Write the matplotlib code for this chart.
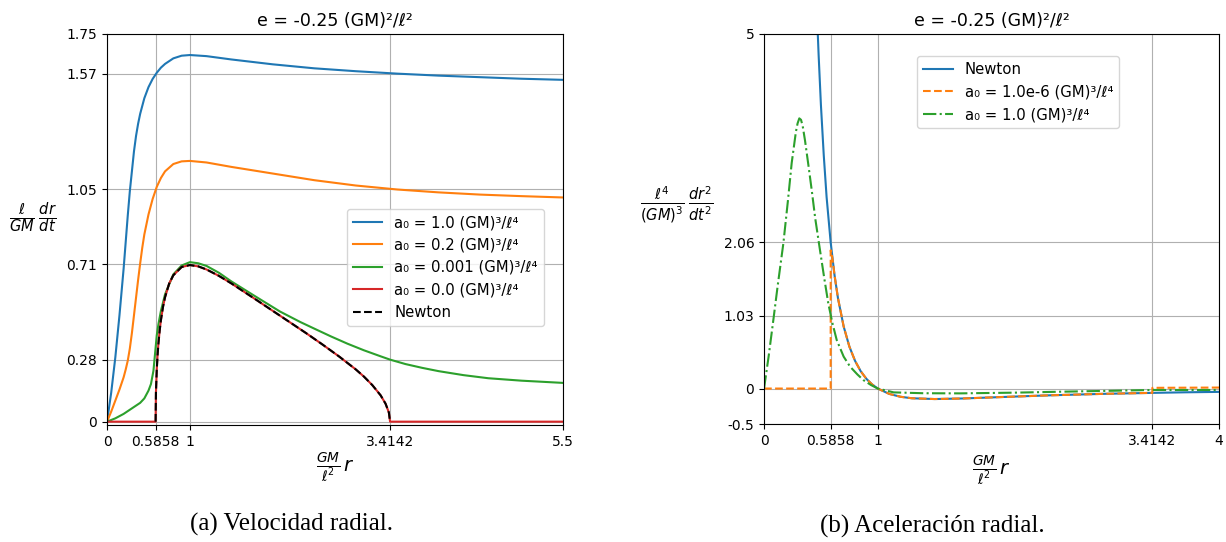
import numpy as np
import matplotlib
matplotlib.use("Agg")
import matplotlib.pyplot as plt

# --- datos (e = -0.25, GM = l = 1) ---
title_txt = "e = -0.25 (GM)²/ℓ²"

# velocidad radial, a0 = 1.0
r_v1 = [0, 0.05, 0.1, 0.15, 0.2, 0.25, 0.275, 0.3, 0.325, 0.35, 0.375, 0.4, 0.45, 0.5, 0.55, 0.6, 0.65,
        0.7, 0.8, 0.9, 1.0, 1.2, 1.5, 2.0, 2.5, 3.0, 3.5, 4.0, 4.5, 5.0, 5.5]
v_v1 = [0, 0.13, 0.29, 0.48, 0.69, 0.93, 1.04, 1.13, 1.22, 1.29, 1.345, 1.39, 1.46, 1.51, 1.547, 1.575, 1.598,
        1.615, 1.64, 1.652, 1.655, 1.65, 1.635, 1.613, 1.595, 1.582, 1.571, 1.562, 1.555, 1.548, 1.543]

# a0 = 0.2
r_v2 = [0, 0.05, 0.1, 0.15, 0.2, 0.225, 0.25, 0.275, 0.3, 0.325, 0.35, 0.375, 0.4, 0.425, 0.45, 0.5, 0.55, 0.6,
        0.65, 0.7, 0.8, 0.9, 1.0, 1.2, 1.5, 2.0, 2.5, 3.0, 3.5, 4.0, 4.5, 5.0, 5.5]
v_v2 = [0, 0.045, 0.095, 0.145, 0.2, 0.235, 0.275, 0.33, 0.40, 0.48, 0.56, 0.64, 0.715, 0.785, 0.845, 0.935, 1.005, 1.06,
        1.10, 1.13, 1.163, 1.175, 1.177, 1.17, 1.15, 1.12, 1.09, 1.066, 1.048, 1.035, 1.025, 1.018, 1.012]

# a0 = 0.001
r_v3 = [0, 0.1, 0.2, 0.3, 0.4, 0.45, 0.5, 0.53, 0.56, 0.58, 0.6, 0.62, 0.65, 0.7, 0.8, 0.9, 1.0, 1.1,
        1.2, 1.35, 1.5, 1.8, 2.087, 2.33, 2.5, 2.7, 2.9, 3.1, 3.3, 3.4142, 3.6, 3.8, 4.0, 4.3, 4.6, 5.0, 5.5]
v_v3 = [0, 0.015, 0.035, 0.06, 0.085, 0.105, 0.14, 0.17, 0.23, 0.31, 0.39, 0.44, 0.50, 0.575, 0.665, 0.705, 0.72, 0.715,
        0.703, 0.672, 0.633, 0.563, 0.497, 0.45, 0.42, 0.385, 0.352, 0.322, 0.295, 0.28, 0.26, 0.243, 0.228, 0.21, 0.196, 0.185, 0.175]

# Newton (entre los puntos de retorno)
r_vn = [0.5858, 0.59, 0.6, 0.61, 0.62, 0.635, 0.65, 0.675, 0.7, 0.75, 0.8, 0.9, 1.0, 1.1, 1.2, 1.35,
        1.5, 1.65, 1.8, 2.0, 2.2, 2.4, 2.6, 2.8, 3.0, 3.1, 3.2, 3.3, 3.36, 3.4, 3.4142]
v_vn = [0, 0.131, 0.236, 0.303, 0.353, 0.412, 0.458, 0.518, 0.562, 0.624, 0.661, 0.698, 0.707, 0.701, 0.687, 0.658,
        0.624, 0.587, 0.550, 0.5, 0.450, 0.400, 0.348, 0.294, 0.236, 0.203, 0.165, 0.119, 0.081, 0.041, 0]

# a0 = 0.0: cero fuera de la region permitida
r_v0 = [0, 0.5858] + r_vn + [3.4142, 5.5]
v_v0 = [0, 0] + v_vn + [0, 0]

# aceleracion radial, Newton
r_an = [0.47, 0.48, 0.5, 0.525, 0.55, 0.5858, 0.62, 0.65, 0.7, 0.75, 0.8, 0.85, 0.9, 0.95, 1.0,
        1.1, 1.2, 1.3, 1.5, 1.75, 2.0, 2.5, 3.0, 3.4142, 3.7, 4.0]
a_an = [5.10, 4.70, 4.00, 3.29, 2.70, 2.06, 1.595, 1.274, 0.875, 0.593, 0.391, 0.244, 0.137, 0.058, 0,
        -0.075, -0.116, -0.137, -0.148, -0.140, -0.125, -0.096, -0.074, -0.061, -0.053, -0.047]

# a0 = 1.0e-6
r_a6 = [0, 0.5858, 0.5858, 0.6, 0.62, 0.65, 0.7, 0.75, 0.8, 0.85, 0.9, 0.95, 1.0, 1.1, 1.2, 1.3,
        1.5, 1.75, 2.0, 2.5, 3.0, 3.4142, 3.4142, 3.7, 4.0]
a_a6 = [0, 0, 1.95, 1.85, 1.595, 1.274, 0.875, 0.593, 0.391, 0.244, 0.137, 0.058, 0, -0.075, -0.116, -0.137,
        -0.148, -0.140, -0.125, -0.096, -0.074, -0.061, 0.01, 0.012, 0.014]

# a0 = 1.0
r_a1 = [0, 0.04, 0.082, 0.12, 0.17, 0.21, 0.243, 0.28, 0.295, 0.31, 0.325, 0.34, 0.36, 0.39, 0.419, 0.45, 0.492, 0.53,
        0.565, 0.6, 0.639, 0.7, 0.756, 0.82, 0.873, 0.94, 1.0, 1.14, 1.4, 1.72, 2.2, 2.6, 3.0, 3.42, 4.0]
a_a1 = [0, 0.45, 0.97, 1.45, 2.05, 2.65, 3.18, 3.62, 3.74, 3.81, 3.79, 3.70, 3.50, 3.15, 2.80, 2.40, 1.95, 1.55,
        1.20, 0.93, 0.684, 0.45, 0.31, 0.20, 0.12, 0.05, 0.0, -0.054, -0.066, -0.068, -0.058, -0.045, -0.033, -0.02, -0.02]

xt_v = [0, 0.5858, 1, 3.4142, 5.5]
xtl_v = ["0", "0.5858", "1", "3.4142", "5.5"]
yt_v = [0, 0.28, 0.71, 1.05, 1.57, 1.75]
ytl_v = ["0", "0.28", "0.71", "1.05", "1.57", "1.75"]
xt_a = [0, 0.5858, 1, 3.4142, 4]
xtl_a = ["0", "0.5858", "1", "3.4142", "4"]
yt_a = [-0.5, 0, 1.03, 2.06, 5]
ytl_a = ["-0.5", "0", "1.03", "2.06", "5"]

xlab = r"$\frac{GM}{\ell^2}\,r$"

fig = plt.figure(figsize=(12.26, 5.42), dpi=100)
ax1 = fig.add_axes([0.0873, 0.2159, 0.3719, 0.7214])
ax2 = fig.add_axes([0.6232, 0.2177, 0.3711, 0.7196])

# (a) velocidad radial
ax1.plot(r_v1, v_v1, color="tab:blue", label="a₀ = 1.0 (GM)³/ℓ⁴")
ax1.plot(r_v2, v_v2, color="tab:orange", label="a₀ = 0.2 (GM)³/ℓ⁴")
ax1.plot(r_v3, v_v3, color="tab:green", label="a₀ = 0.001 (GM)³/ℓ⁴")
ax1.plot(r_v0, v_v0, color="tab:red", label="a₀ = 0.0 (GM)³/ℓ⁴")
ax1.plot(r_vn, v_vn, "k--", label="Newton")
ax1.set_xlim(0, 5.5)
ax1.set_ylim(-0.015, 1.75)
ax1.set_xticks(xt_v, xtl_v)
ax1.set_yticks(yt_v, ytl_v)
ax1.grid(True)
ax1.set_title(title_txt, fontsize=12.5)
ax1.set_xlabel(xlab, fontsize=14, va="center")
ax1.xaxis.set_label_coords(0.5, -0.11)
ax1.set_ylabel(r"$\frac{\ell}{GM}\,\frac{dr}{dt}$", rotation=0, fontsize=15, va="center", ha="center")
ax1.yaxis.set_label_coords(-0.162, 0.53)
ax1.legend(loc="center right", bbox_to_anchor=(0.958, 0.403), borderaxespad=0, fontsize=10.7)

# (b) aceleracion radial
ax2.plot(r_an, a_an, color="tab:blue", label="Newton")
ax2.plot(r_a6, a_a6, "--", color="tab:orange", label="a₀ = 1.0e-6 (GM)³/ℓ⁴")
ax2.plot(r_a1, a_a1, "-.", color="tab:green", label="a₀ = 1.0 (GM)³/ℓ⁴")
ax2.set_xlim(0, 4)
ax2.set_ylim(-0.5, 5)
ax2.set_xticks(xt_a, xtl_a)
ax2.set_yticks(yt_a, ytl_a)
ax2.grid(True)
ax2.set_title(title_txt, fontsize=12.5)
ax2.set_xlabel(xlab, fontsize=14, va="center")
ax2.xaxis.set_label_coords(0.5, -0.12)
ax2.set_ylabel(r"$\frac{\ell^4}{(GM)^3}\,\frac{dr^2}{dt^2}$", rotation=0, fontsize=15, va="center", ha="center")
ax2.yaxis.set_label_coords(-0.193, 0.56)
ax2.legend(loc="center", bbox_to_anchor=(0.559, 0.851), borderaxespad=0, fontsize=10.7)

fig.text(292 / 1226, 1 - 524 / 542, "(a) Velocidad radial.", family="Liberation Serif",
         fontsize=18, ha="center", va="center")
fig.text(932 / 1226, 1 - 526 / 542, "(b) Aceleración radial.", family="Liberation Serif",
         fontsize=18, ha="center", va="center")

fig.savefig("out.png", dpi=100)
